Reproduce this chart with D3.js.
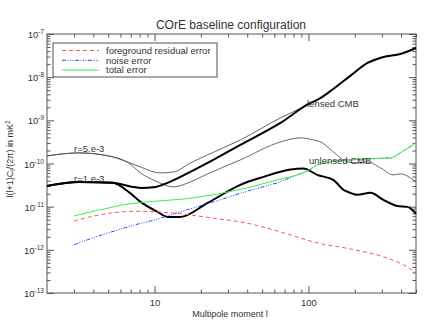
<!DOCTYPE html>
<html>
<head>
<meta charset="utf-8">
<script src="https://cdn.jsdelivr.net/npm/d3@7"></script>
<style>
  body { margin: 0; background: #fff; }
  svg { display: block; }
  text { font-family: "Liberation Sans", Arial, sans-serif; fill: #333; }
</style>
</head>
<body>
<div id="chart"></div>
<script>
// ---- data ----
const fgEll = [3, 4.8, 7.5, 10, 15, 25.7, 36.1, 69, 114, 187, 307, 414, 500];
const fgVal = [4.69e-12, 6.82e-12, 7.8e-12, 7.59e-12, 6.82e-12, 5.22e-12, 4.45e-12, 2.48e-12, 1.45e-12, 1.05e-12, 6.89e-13, 4.5e-13, 3.0e-13];

const noiseEll = [3, 4.14, 6.68, 8.1, 10, 14.7, 24.2, 40.2, 62.9, 98.6, 114, 145, 187, 242, 351, 500];
const noiseVal = [1.31e-12, 2.0e-12, 3.4e-12, 4.1e-12, 4.9e-12, 7.59e-12, 1.29e-11, 2.3e-11, 3.56e-11, 6.74e-11, 9.29e-11, 1.15e-10, 1.21e-10, 1.28e-10, 1.35e-10, 3.0e-10];

const totEll = [3, 4.14, 6.19, 8.1, 15.9, 24.2, 40.2, 62.9, 84.9, 98.6, 114, 145, 187, 242, 351, 500];
const totVal = [6.12e-12, 8.0e-12, 1.1e-11, 1.25e-11, 1.52e-11, 1.88e-11, 2.72e-11, 4.17e-11, 5.45e-11, 6.74e-11, 9.29e-11, 1.15e-10, 1.21e-10, 1.28e-10, 1.35e-10, 3.0e-10];

// r = 1e-3, lensed (thick)
const r1LensEll = [2, 3.21, 5.33, 7.53, 8.11, 10.15, 12.15, 17.1, 22.1, 36.1, 65.8, 103, 114, 145, 187, 242, 307, 396, 500];
const r1LensVal = [3.03e-11, 3.75e-11, 3.56e-11, 2.8e-11, 2.72e-11, 2.87e-11, 3.56e-11, 6.39e-11, 1.03e-10, 2.7e-10, 8.71e-10, 2.53e-9, 2.97e-9, 5.33e-9, 1.07e-8, 2.13e-8, 2.94e-8, 3.44e-8, 4.74e-8];

// r = 1e-3, unlensed (thick)
const r1Ell = [2, 3.21, 5.33, 6.78, 8.11, 10.45, 12.15, 14.7, 22.1, 36.1, 51, 76.4, 92.9, 114, 145, 169, 187, 208, 253, 307, 378, 440, 500];
const r1Val = [3.03e-11, 3.75e-11, 3.56e-11, 2.2e-11, 1.29e-11, 7.59e-12, 5.8e-12, 5.8e-12, 1.22e-11, 3.2e-11, 4.9e-11, 7.3e-11, 7.7e-11, 5.45e-11, 4.17e-11, 2.45e-11, 2.09e-11, 1.88e-11, 2.09e-11, 1.44e-11, 1.04e-11, 9.89e-12, 6.82e-12];

// r = 5e-3, lensed (thin)
const r5LensEll = [2, 3.21, 5.02, 6.78, 8.11, 9.42, 10.9, 13.3, 17.1, 22.1, 36.1, 65.8, 98.6, 114, 145, 187, 242, 307, 396, 500];
const r5LensVal = [1.5e-10, 1.76e-10, 1.5e-10, 1.06e-10, 8.34e-11, 6.74e-11, 6.06e-11, 6.39e-11, 1.03e-10, 1.58e-10, 3.52e-10, 1.14e-9, 2.27e-9, 2.97e-9, 5.33e-9, 1.07e-8, 2.13e-8, 2.94e-8, 3.44e-8, 4.74e-8];

// r = 5e-3, unlensed (thin)
const r5Ell = [2, 3.21, 5.02, 6.78, 8.11, 10.45, 13.3, 17.1, 22.1, 36.1, 65.8, 88.8, 108, 120, 145, 179, 208, 242, 294, 356, 396, 460, 500];
const r5Val = [1.5e-10, 1.76e-10, 1.5e-10, 1.03e-10, 6.06e-11, 3.75e-11, 2.87e-11, 3.75e-11, 5.75e-11, 1.21e-10, 3.16e-10, 3.92e-10, 3.5e-10, 3.16e-10, 1.86e-10, 1.09e-10, 1.03e-10, 1.09e-10, 7.91e-11, 5.45e-11, 5.75e-11, 4.65e-11, 3.75e-11];

const xMajor = [10, 100];
const xMinor = [3, 4, 5, 6, 7, 8, 9, 20, 30, 40, 50, 60, 70, 80, 90, 200, 300, 400, 500];
const yMajor = [1e-7, 1e-8, 1e-9, 1e-10, 1e-11, 1e-12, 1e-13];
const yMinor = [];
[-13, -12, -11, -10, -9, -8].forEach(e => {
    [2, 3, 4, 5, 6, 7, 8, 9].forEach(m => yMinor.push(m * Math.pow(10, e)));
});

const legendItems = ["foreground residual error", "noise error", "total error"];

// ---- layout ----
const W = 432, H = 334;
const mLeft = 47, mRight = 416, mTop = 34, mBottom = 293;

const svg = d3.select("#chart").append("svg")
    .attr("width", W)
    .attr("height", H);

const x = d3.scaleLog().domain([2, 500]).range([mLeft, mRight]);
const y = d3.scaleLog().domain([1e-13, 1e-7]).range([mBottom, mTop]);

const zip = (a, b) => a.map((v, i) => [v, b[i]]);
const smooth = d3.line().x(d => x(d[0])).y(d => y(d[1])).curve(d3.curveMonotoneX);
const straight = d3.line().x(d => x(d[0])).y(d => y(d[1]));

const axisColor = "#555";

// axes (ticks point inward on all four sides)
function styleAxis(g) {
    g.select(".domain").remove();
    g.selectAll("line").attr("stroke", axisColor);
}

svg.append("g").attr("transform", `translate(0,${mBottom})`)
    .call(d3.axisBottom(x).tickValues(xMajor).tickSizeInner(-7).tickSizeOuter(0).tickPadding(6).tickFormat(d3.format("d")))
    .call(styleAxis)
    .selectAll("text").style("font-size", "9.5px").attr("fill", "#333").attr("font-family", "Liberation Sans, Arial, sans-serif");
svg.append("g").attr("transform", `translate(0,${mBottom})`)
    .call(d3.axisBottom(x).tickValues(xMinor).tickSizeInner(-3.5).tickSizeOuter(0).tickFormat(""))
    .call(styleAxis);
svg.append("g").attr("transform", `translate(0,${mTop})`)
    .call(d3.axisTop(x).tickValues(xMajor).tickSizeInner(-7).tickSizeOuter(0).tickFormat(""))
    .call(styleAxis);
svg.append("g").attr("transform", `translate(0,${mTop})`)
    .call(d3.axisTop(x).tickValues(xMinor).tickSizeInner(-3.5).tickSizeOuter(0).tickFormat(""))
    .call(styleAxis);

const yLeft = svg.append("g").attr("transform", `translate(${mLeft},0)`)
    .call(d3.axisLeft(y).tickValues(yMajor).tickSizeInner(-7).tickSizeOuter(0).tickFormat(""))
    .call(styleAxis);
yLeft.selectAll("text").remove();
svg.append("g").attr("transform", `translate(${mLeft},0)`)
    .call(d3.axisLeft(y).tickValues(yMinor).tickSizeInner(-3.5).tickSizeOuter(0).tickFormat(""))
    .call(styleAxis);
svg.append("g").attr("transform", `translate(${mRight},0)`)
    .call(d3.axisRight(y).tickValues(yMajor).tickSizeInner(-7).tickSizeOuter(0).tickFormat(""))
    .call(styleAxis);
svg.append("g").attr("transform", `translate(${mRight},0)`)
    .call(d3.axisRight(y).tickValues(yMinor).tickSizeInner(-3.5).tickSizeOuter(0).tickFormat(""))
    .call(styleAxis);

// y tick labels with superscript exponent
yLeft.selectAll(".tick").each(function (d) {
    const t = d3.select(this).append("text")
        .attr("x", -3)
        .attr("y", 3.5)
        .attr("text-anchor", "end")
        .style("font-size", "9.5px")
        .attr("fill", "#333");
    t.append("tspan").text("10");
    t.append("tspan")
        .attr("dy", -4)
        .style("font-size", "6.5px")
        .text("-" + Math.round(-Math.log10(d)));
});

// frame
svg.append("rect")
    .attr("x", mLeft).attr("y", mTop)
    .attr("width", mRight - mLeft).attr("height", mBottom - mTop)
    .attr("fill", "none")
    .attr("stroke", axisColor)
    .attr("stroke-width", 1);

// CMB curves
const cmb = svg.append("g").attr("fill", "none");
cmb.append("path").datum(zip(r5Ell, r5Val)).attr("d", smooth).attr("stroke", "#555").attr("stroke-width", 0.9);
cmb.append("path").datum(zip(r5LensEll, r5LensVal)).attr("d", smooth).attr("stroke", "#555").attr("stroke-width", 0.9);
cmb.append("path").datum(zip(r1Ell, r1Val)).attr("d", smooth).attr("stroke", "#000").attr("stroke-width", 2);
cmb.append("path").datum(zip(r1LensEll, r1LensVal)).attr("d", smooth).attr("stroke", "#000").attr("stroke-width", 2);

// error curves
const err = svg.append("g").attr("fill", "none");
err.append("path").datum(zip(noiseEll, noiseVal)).attr("d", straight)
    .attr("stroke", "#3344ff").attr("stroke-width", 1).attr("stroke-dasharray", "4,1.5,1,1.5,1,1.5,1,1.5");
err.append("path").datum(zip(fgEll, fgVal)).attr("d", smooth)
    .attr("stroke", "#ff5555").attr("stroke-width", 1).attr("stroke-dasharray", "4,3");
err.append("path").datum(zip(totEll, totVal)).attr("d", straight)
    .attr("stroke", "#44ee44").attr("stroke-width", 1);

// curve labels
const labels = svg.append("g").style("font-size", "9.5px");
labels.append("text").attr("x", 74).attr("y", 152).text("r=5.e-3");
labels.append("text").attr("x", 74).attr("y", 182).text("r=1.e-3");
labels.append("text").attr("x", 307).attr("y", 107).text("lensed CMB");
labels.append("text").attr("x", 309).attr("y", 164).text("unlensed CMB");

// legend
const lg = svg.append("g");
lg.append("rect")
    .attr("x", 53).attr("y", 43).attr("width", 164).attr("height", 34)
    .attr("fill", "#fff").attr("stroke", axisColor).attr("stroke-width", 1);
const legendStyles = [
    { color: "#ff5555", dash: "4,3" },
    { color: "#3344ff", dash: "4,1.5,1,1.5,1,1.5,1,1.5" },
    { color: "#44ee44", dash: null }
];
legendItems.forEach((name, i) => {
    const yy = 50.5 + i * 9.8;
    lg.append("line")
        .attr("x1", 62).attr("x2", 99).attr("y1", yy).attr("y2", yy)
        .attr("stroke", legendStyles[i].color)
        .attr("stroke-width", 1)
        .attr("stroke-dasharray", legendStyles[i].dash);
    lg.append("text").attr("x", 106).attr("y", yy + 3.3).style("font-size", "9.5px").text(name);
});

// title and axis labels
svg.append("text")
    .attr("x", 231).attr("y", 29)
    .attr("text-anchor", "middle")
    .style("font-size", "12px")
    .text("COrE baseline configuration");

svg.append("text")
    .attr("x", 230).attr("y", 317)
    .attr("text-anchor", "middle")
    .style("font-size", "9px")
    .text("Multipole moment l");

const yl = svg.append("text")
    .attr("transform", "translate(13,159) rotate(-90)")
    .attr("text-anchor", "middle")
    .style("font-size", "9px");
yl.append("tspan").text("l(l+1)C");
yl.append("tspan").attr("dy", 2).style("font-size", "6.5px").text("l");
yl.append("tspan").attr("dy", -2).text("/(2π) in mK");
yl.append("tspan").attr("dy", -3).style("font-size", "6.5px").text("2");
</script>
</body>
</html>
